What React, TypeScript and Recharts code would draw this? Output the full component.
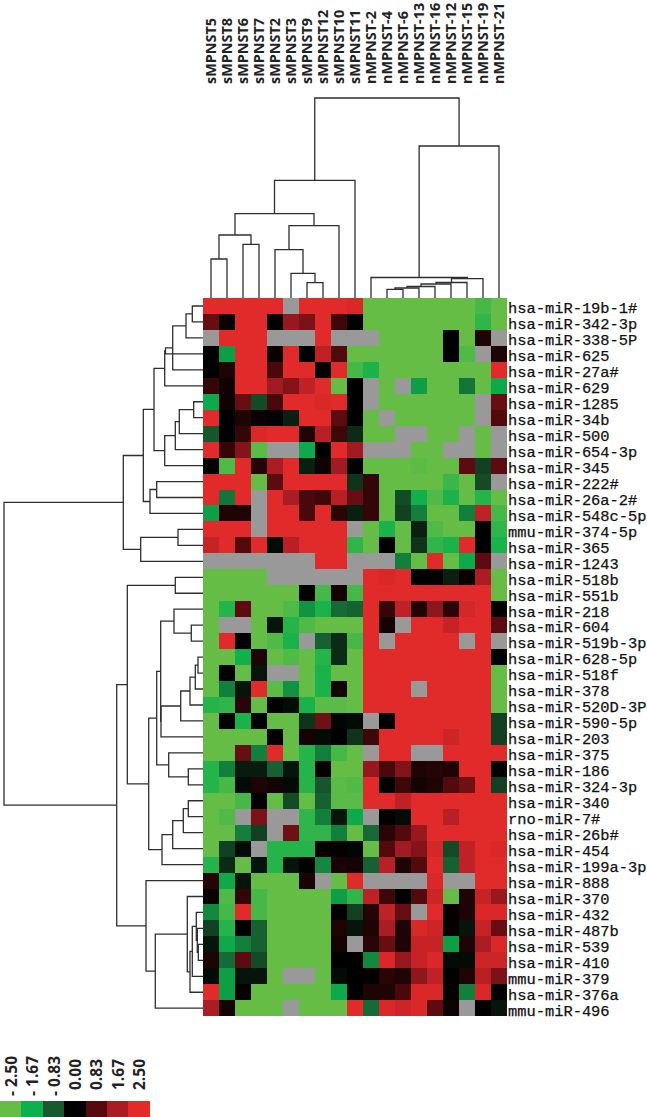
import React from "react";
import { ScatterChart, Scatter, XAxis, YAxis } from "recharts";

const samples = [
    "sMPNST5", "sMPNST8", "sMPNST6", "sMPNST7", "sMPNST2", "sMPNST3", "sMPNST9", "sMPNST12", "sMPNST10", "sMPNST11",
    "nMPNST-2", "nMPNST-4", "nMPNST-6", "nMPNST-13", "nMPNST-16", "nMPNST-12", "nMPNST-15", "nMPNST-19", "nMPNST-21",
];

const mirnas = [
    "hsa-miR-19b-1#", "hsa-miR-342-3p", "hsa-miR-338-5P", "hsa-miR-625", "hsa-miR-27a#", "hsa-miR-629", "hsa-miR-1285",
    "hsa-miR-34b", "hsa-miR-500", "hsa-miR-654-3p", "hsa-miR-345", "hsa-miR-222#", "hsa-miR-26a-2#", "hsa-miR-548c-5p",
    "mmu-miR-374-5p", "hsa-miR-365", "hsa-miR-1243", "hsa-miR-518b", "hsa-miR-551b", "hsa-miR-218", "hsa-miR-604",
    "hsa-miR-519b-3p", "hsa-miR-628-5p", "hsa-miR-518f", "hsa-miR-378", "hsa-miR-520D-3P", "hsa-miR-590-5p", "hsa-miR-203",
    "hsa-miR-375", "hsa-miR-186", "hsa-miR-324-3p", "hsa-miR-340", "rno-miR-7#", "hsa-miR-26b#", "hsa-miR-454",
    "hsa-miR-199a-3p", "hsa-miR-888", "hsa-miR-370", "hsa-miR-432", "hsa-miR-487b", "hsa-miR-539", "hsa-miR-410",
    "mmu-miR-379", "hsa-miR-376a", "mmu-miR-496",
];

// log ratios, one row per miRNA, null = no call (grey)
const _ = null;
const R = 2.5;
const G = -2.5;
const values: (number | null)[][] = [
    [R, R, R, R, R, _, R, R, R, 2.4, G, G, G, G, G, G, G, -2.2, G],
    [1.0, 0.1, R, R, 0, 1.5, 1.2, R, 0.6, 0, G, G, G, G, G, G, G, -2.0, G],
    [_, R, R, R, _, _, _, R, _, _, _, G, G, G, G, 0, G, 0.3, _],
    [0, -1.5, R, R, 0.1, R, 0, 2.0, 0.8, G, G, G, G, G, G, 0, -2.3, _, 0.3],
    [0, 0.3, R, R, 0.7, R, R, 0, R, -2.2, -1.8, G, G, G, G, G, G, G, R],
    [0.5, 0.15, R, R, 1.6, 1.3, 2.0, R, G, 0, _, G, _, -1.5, G, G, -1.1, G, -1.6],
    [-1.6, 0.15, 1.0, -0.7, 0.7, R, R, 2.4, R, 0, _, G, G, G, G, G, G, _, 1.0],
    [R, 0, 0.3, 0.1, 0.05, -0.3, R, R, 0.9, 0, G, _, G, G, G, G, G, _, 0.8],
    [-0.8, 0, 0.5, 2.4, R, R, 0.3, 1.9, 0.6, -0.4, G, G, _, _, G, G, _, G, _],
    [R, 0.5, 1.3, -2.4, _, _, -1.6, 0, R, 1.6, _, _, _, G, G, _, _, G, _],
    [0.05, -2.3, R, 0.35, 1.7, R, -0.3, 0.15, 1.6, 0, G, G, G, -2.4, G, G, 0.9, -0.6, 0.9],
    [R, R, R, G, 0.9, R, R, R, R, -0.5, 0.5, G, G, G, G, -2.1, G, -0.7, _],
    [R, -1.1, R, _, R, 1.7, 0.7, 0.6, 1.9, 1.0, 0.5, G, -0.7, -1.7, -2.3, -1.8, G, -1.9, G],
    [-1.5, 0.3, 0.3, _, R, R, 0.7, R, 0.4, -0.3, 0.5, G, -0.6, -1.2, G, G, -1.2, 2.0, -2.2],
    [R, R, R, _, R, R, R, R, R, _, G, -1.8, G, -0.3, -2.3, G, G, 0, -2.0],
    [2.1, R, 0.8, R, -0.1, 1.9, R, R, R, -2.0, G, 0, G, -0.5, -2.0, -1.8, R, 0, -1.8],
    [_, _, _, _, _, _, _, R, R, _, _, _, -1.2, G, R, G, -1.6, 0.9, _],
    [G, G, G, G, _, _, _, _, _, _, R, 2.4, R, 0, 0, -0.3, 0.1, 1.7, G],
    [G, G, G, G, G, G, 0, -2.2, 0.2, -2.2, R, R, R, R, R, R, R, R, G],
    [G, -1.9, 0.9, G, G, -2.3, -1.4, -1.8, -1.0, -0.9, R, 0.5, 2.0, 0.3, 1.4, 0.4, 2.3, R, 0],
    [G, _, _, G, -0.2, -1.9, -2.3, G, G, G, R, 0.2, _, R, R, 2.1, R, R, 0.9],
    [G, R, 0, G, -2.3, -1.8, _, -0.9, -0.4, -2.2, R, _, R, R, R, R, _, R, _],
    [G, G, -1.7, 0.3, G, -2.3, G, -1.9, -0.4, G, R, R, R, R, R, R, R, R, 0],
    [G, 0, G, -0.2, _, _, G, -1.8, G, G, R, R, R, R, R, R, R, R, G],
    [G, -1.2, -0.2, R, -2.4, -1.4, G, -1.8, 0.2, G, R, R, R, _, R, R, R, R, G],
    [-1.9, -2.0, 0.4, G, 0, -0.1, -1.8, -2.4, -2.4, G, R, R, R, R, R, R, R, R, G],
    [G, 0, -1.8, 0, G, G, -0.5, 1.1, -0.05, -0.1, _, 0, R, R, R, R, R, R, -0.6],
    [G, G, G, G, 0, G, 0.2, -0.1, 0, -0.5, 0.6, R, R, R, R, 2.2, R, R, -0.6],
    [G, G, 1.0, -1.2, R, G, -1.9, -1.2, -2.2, G, _, R, R, _, _, R, R, R, R],
    [-1.9, -1.2, -0.25, -0.25, -0.9, -0.2, -1.9, 0, G, G, 1.5, 0.7, 1.3, 0.3, 0.35, 0.3, R, R, 0],
    [-1.9, -2.2, -0.1, 0.3, 0.2, -0.1, -1.9, -0.8, -2.4, -2.3, R, 0, 0.6, 0.2, 0.3, 0.8, 1.1, R, -0.6],
    [G, G, -2.2, 0, G, -0.7, G, -0.9, -2.4, -2.4, R, R, 2.0, R, R, R, R, R, R],
    [G, -2.3, _, 1.2, _, _, -2.0, -1.2, -0.2, -1.6, _, 0, -0.1, R, R, 1.9, R, R, R],
    [G, G, -1.2, -0.6, _, 1.1, -2.0, -2.0, -1.2, G, -1.0, 0.4, 0.8, 1.5, R, R, R, R, R],
    [G, -0.6, -0.1, _, -1.9, -1.9, -1.9, 0.05, 0.05, -0.05, G, 0.8, 1.6, 1.3, 2.3, -0.7, 2.0, R, 2.4],
    [-1.9, -0.4, G, -0.2, -1.9, -0.2, 0, -1.3, 0.25, 0.2, -0.9, 1.9, 0.3, 0.8, R, -0.9, 2.0, R, R],
    [0.35, -1.6, -0.2, G, G, G, 0.25, _, G, R, _, _, _, _, 2.4, _, _, R, R],
    [0.1, -2.3, 0.5, -2.2, G, G, G, G, -1.5, -2.0, 2.0, 0.6, 0, 0.8, 2.2, G, 0.3, 2.1, 1.5],
    [-1.3, -2.2, R, -2.2, G, G, G, G, 0, -0.6, 0.35, 2.0, 1.0, _, R, 0.05, 0.3, 2.4, 2.4],
    [-0.6, -1.9, 0, -0.9, G, G, G, G, 0.3, -0.2, 0.3, 1.7, 0.3, 2.4, 2.2, 0.05, -0.2, 2.1, 1.0],
    [-0.2, -1.6, -1.2, -0.9, G, G, G, G, 0.2, _, 0.4, 1.0, 0.3, 2.1, 2.1, -1.5, 0.3, 1.7, 2.4],
    [0.3, -1.0, 0.9, -0.7, G, G, G, G, 0, 0, -1.3, 2.4, 1.5, 2.1, 2.4, -0.1, -0.1, 2.2, 2.2],
    [-0.1, -1.5, -0.2, -0.2, G, _, _, G, -0.1, 0, 0, 0.4, 0.3, 1.4, 2.0, 0, 0.3, 1.9, 1.2],
    [R, -1.5, 0.05, G, G, G, G, G, -1.6, 0, 0.3, 0.3, 0.7, 2.4, 2.4, 0.05, -1.2, 2.4, 0.05],
    [1.7, 0.2, G, G, G, _, G, G, G, R, -1.0, 2.4, 2.2, 2.4, 0.9, 0.15, _, 0, -0.2],
];

// hclust style merges: [left, right, height], >=0 is a leaf, -k is merge k
const colMerges = [
    [0, 1, 39], [2, 3, 53.7], [-1, -2, 63], [6, 7, 15.3], [5, -4, 24.7], [4, -5, 48.3], [-6, 8, 72.3], [-3, -7, 84.3],
    [-8, 9, 117.7], [11, 12, 8.7], [-10, 13, 10], [-11, 14, 11.5], [-12, 15, 14], [-13, 16, 15.5], [-14, 17, 19.3],
    [10, -15, 20.5], [-16, 18, 152], [-9, -17, 200],
];

const rowMerges = [
    [0, 1, 10.7], [-1, 2, 17], [-2, 4, 30.3], [-3, 3, 37.5], [-4, 5, 38.3], [6, 7, 9.3], [-6, 8, 23.7], [-7, 9, 27.7],
    [-8, 10, 38.3], [-5, -9, 49], [11, 12, 46.3], [-11, 13, 53], [-10, -12, 59.7], [14, 15, 25], [-14, 16, 62.3],
    [-13, -15, 79.7], [17, 18, 27.7], [20, 21, 11.7], [19, -18, 29], [22, 23, 5], [-20, 24, 7.7], [-21, 25, 13],
    [-22, 26, 22.3], [-23, 27, 42], [-19, -24, 42.3], [29, 30, 14.7], [28, -26, 34.3], [-25, -27, 46.3], [31, 32, 14.7],
    [-29, 33, 19.7], [-30, 34, 30.3], [-31, 35, 41], [-28, -32, 54.3], [-17, -33, 75.7], [40, 41, 4.7], [39, -35, 5.7],
    [38, -36, 6.7], [-37, 42, 10.7], [-38, 43, 13], [37, -39, 15.7], [-40, 44, 47.7], [36, -41, 57], [-34, -42, 86.3],
    [-16, -43, 199],
];

const legendValues = [-2.5, -1.67, -0.83, 0, 0.83, 1.67, 2.5];
const legendLabels = ["- 2.50", "- 1.67", "- 0.83", "0.00", "0.83", "1.67", "2.50"];

const stops = ["#66bd46", "#0cb04c", "#18592f", "#000000", "#560a0e", "#a81c24", "#e12a2a"];
const GREY = "#999999";
const LINE = "#2e2e2e";

const WIDTH = 647;
const HEIGHT = 1117;
const LEFT = 203;
const TOP = 298;
const CELL_W = 16;
const CELL_H = 15.96;
const LEGEND_W = 21.4;
const LEGEND_ROW = (1109 - TOP) / CELL_H - 0.5;

function hex(c: string) {
    return [1, 3, 5].map((i) => parseInt(c.slice(i, i + 2), 16));
}

function colorOf(v: number | null) {
    if (v === null) return GREY;
    const t = ((Math.max(-2.5, Math.min(2.5, v)) + 2.5) / 5) * 6;
    const i = Math.min(5, Math.floor(t));
    const a = hex(stops[i]);
    const b = hex(stops[i + 1]);
    const mix = a.map((x, k) => Math.round(x + (b[k] - x) * (t - i)));
    return `rgb(${mix.join(",")})`;
}

// turns merges into U shaped links, position along the leaves + height
function buildLinks(merges: number[][]) {
    const nodes: { pos: number; h: number }[] = [];
    const get = (ref: number) => (ref >= 0 ? { pos: ref, h: 0 } : nodes[-ref - 1]);
    return merges.map(([l, r, h]) => {
        const a = get(l);
        const b = get(r);
        nodes.push({ pos: (a.pos + b.pos) / 2, h });
        return [
            { pos: a.pos, h: a.h },
            { pos: a.pos, h },
            { pos: b.pos, h },
            { pos: b.pos, h: b.h },
        ];
    });
}

const colLinks = buildLinks(colMerges).map((link) =>
    link.map((p) => ({ x: p.pos, y: -0.5 - p.h / CELL_H }))
);
const rowLinks = buildLinks(rowMerges).map((link) =>
    link.map((p) => ({ x: -0.5 - p.h / CELL_W, y: p.pos }))
);

const cells = values.flatMap((row, y) => row.map((v, x) => ({ x, y, fill: colorOf(v) })));
const legendCells = legendValues.map((v, i) => ({ x: i, y: LEGEND_ROW, fill: colorOf(v) }));

const noDot = () => null;

function HeatCell(props: any) {
    return (
        <rect
            x={props.cx - CELL_W / 2}
            y={props.cy - CELL_H / 2}
            width={CELL_W}
            height={CELL_H + 0.1}
            fill={props.payload.fill}
            shapeRendering="crispEdges"
        />
    );
}

function LegendCell(props: any) {
    return (
        <rect
            x={props.cx - LEGEND_W / 2}
            y={props.cy - 8}
            width={LEGEND_W + 0.1}
            height={16}
            fill={props.payload.fill}
            shapeRendering="crispEdges"
        />
    );
}

const headFont = "'Open Sans', sans-serif";

function SampleTick(props: any) {
    return (
        <text
            transform={`translate(${props.x + 4.5},84) rotate(-90)`}
            fontFamily={headFont}
            fontWeight={700}
            fontSize={14.4}
            fill="#222"
        >
            {samples[props.payload.value]}
        </text>
    );
}

function MirnaTick(props: any) {
    return (
        <text
            x={508}
            y={props.y + 7.3}
            fontFamily="'Liberation Mono', monospace"
            fontSize={15.4}
            fill="#111"
            stroke="#111"
            strokeWidth={0.25}
        >
            {mirnas[props.payload.value]}
        </text>
    );
}

function LegendTick(props: any) {
    const label = legendLabels[props.payload.value];
    const bottom = label.startsWith("-") ? 1096 : 1090;
    return (
        <text
            transform={`translate(${props.x + 6},${bottom}) rotate(-90)`}
            fontFamily={headFont}
            fontWeight={700}
            fontSize={15.5}
            fill="#222"
        >
            {label}
        </text>
    );
}

export default function App() {
    return (
        <div style={{ position: "absolute", left: 0, top: 0, width: WIDTH, height: HEIGHT, background: "#fff" }}>
            <ScatterChart width={WIDTH} height={HEIGHT} margin={{ top: 0, right: 0, bottom: 0, left: 0 }}>
                <XAxis
                    type="number"
                    dataKey="x"
                    orientation="top"
                    mirror
                    domain={[-LEFT / CELL_W - 0.5, (WIDTH - LEFT) / CELL_W - 0.5]}
                    ticks={samples.map((s, i) => i)}
                    interval={0}
                    axisLine={false}
                    tickLine={false}
                    tick={<SampleTick />}
                />
                <XAxis
                    xAxisId="legend"
                    type="number"
                    dataKey="x"
                    orientation="bottom"
                    mirror
                    domain={[-0.5, WIDTH / LEGEND_W - 0.5]}
                    ticks={legendValues.map((v, i) => i)}
                    interval={0}
                    axisLine={false}
                    tickLine={false}
                    tick={<LegendTick />}
                />
                <YAxis
                    type="number"
                    dataKey="y"
                    orientation="right"
                    mirror
                    reversed
                    domain={[-TOP / CELL_H - 0.5, (HEIGHT - TOP) / CELL_H - 0.5]}
                    ticks={mirnas.map((m, i) => i)}
                    interval={0}
                    axisLine={false}
                    tickLine={false}
                    tick={<MirnaTick />}
                />
                {[...colLinks, ...rowLinks].map((link, i) => (
                    <Scatter
                        key={i}
                        data={link}
                        line={{ stroke: LINE, strokeWidth: 1.3 }}
                        shape={noDot}
                        isAnimationActive={false}
                    />
                ))}
                <Scatter data={cells} shape={HeatCell} isAnimationActive={false} />
                <Scatter xAxisId="legend" data={legendCells} shape={LegendCell} isAnimationActive={false} />
            </ScatterChart>
        </div>
    );
}
